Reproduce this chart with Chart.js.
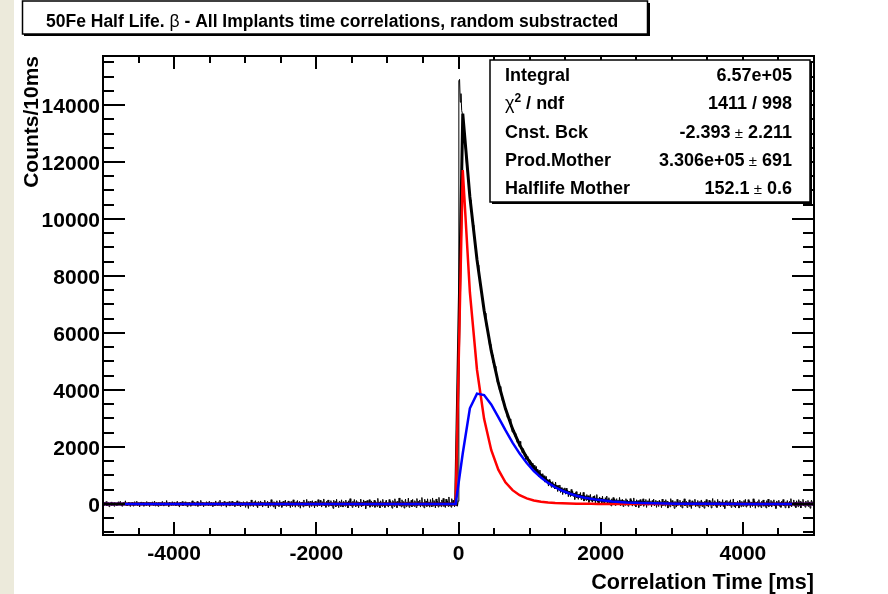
<!DOCTYPE html>
<html>
<head>
<meta charset="utf-8">
<script src="https://cdn.jsdelivr.net/npm/chart.js@4.4.1/dist/chart.umd.min.js"></script>
<style>
  html, body { margin: 0; padding: 0; background: #fff; }
  #wrap { position: relative; width: 888px; height: 594px; }
</style>
</head>
<body>
<div id="wrap"><canvas id="halfLifeChart" width="888" height="594"></canvas></div>
<script>
'use strict';

// --- histogram: 10 ms bins from -5000 to 5000 ms ---
const BIN_LOW = -5000;
const BIN_WIDTH = 10;

// counts per bin, t < 0 (random subtracted, flat around zero)
const countsBefore = [
  30,-45,60,-20,85,-70,10,45,-95,25,-30,70,-55,15,40,-80,55,-10,35,-60,
  20,75,-40,-15,90,-65,30,-85,50,5,-35,110,-50,25,-70,40,65,-25,-90,45,
  -10,55,-75,35,80,-45,-20,95,-60,15,50,-105,30,70,-40,-15,60,-80,25,40,
  -55,85,10,-30,65,-95,45,-20,30,75,-50,-10,100,-70,20,55,-35,-85,60,15,
  40,-60,25,90,-30,-75,50,10,-45,120,-25,35,-90,65,-15,45,-55,80,-40,5,
  70,-20,-65,35,95,-50,15,-110,60,30,-35,85,-70,20,-5,75,-45,40,-95,55,
  -30,65,20,-80,45,110,-40,-15,70,-60,35,-25,90,-85,50,10,-55,125,-20,30,
  60,-100,40,15,-45,80,-30,55,-70,95,20,-50,65,-10,-90,45,30,-65,105,-35,
  25,-55,75,-40,130,-20,-85,50,15,-60,90,-30,40,-115,70,5,-45,85,-75,35,
  -15,95,-50,30,60,-90,45,-25,110,-65,20,75,-40,-105,55,35,-70,80,-10,50,
  -120,40,85,-35,-160,60,25,-80,140,-45,30,-95,75,-25,115,-70,50,-135,90,20,
  -60,105,-30,70,-110,45,-15,130,-75,35,-50,95,-140,60,20,-85,150,-40,55,-100,
  80,-25,-170,65,110,-55,30,-90,125,-35,70,-120,45,95,-65,-20,135,-80,40,-45,
  105,-70,50,-130,85,25,-95,145,-40,60,-115,75,-30,120,-85,15,90,-150,55,-20,
  70,-105,140,-45,30,-75,160,-60,85,-25,-125,95,40,-90,115,-35,65,-140,100,-50,
  45,-95,150,-30,-70,125,55,-110,80,-40,175,-65,30,-120,95,-15,140,-85,60,-45,
  115,-75,40,-155,130,-20,85,-100,165,-50,25,-130,105,60,-90,145,-35,-110,90,20,
  -80,135,-45,70,-140,110,-25,185,-70,45,-120,95,-55,155,30,-95,120,-60,80,-135,
  60,-40,170,-100,55,-75,140,-30,95,-165,75,120,-60,-20,150,-115,40,105,-85,65,
  -50,130,-120,85,25,-95,195,-45,70,-140,110,-10,-85,160,-60,45,-125,90,135,-70,
  40,-110,155,-55,100,-35,-150,120,65,-90,180,-40,75,-130,95,-20,210,-75,50,-105,
  145,-60,85,-145,30,170,-95,60,-40,205,-120,75,-55,130,-100,160,-30,-85,115,45,
  -125,190,-70,95,-30,140,-110,55,225,-80,40,-135,165,-45,100,-90,180,-60,70,-115,
  155,-40,-100,210,-75,120,30,-140,175,-55,90,-110,230,-65,45,-95,140,-30,195,-85,
  60,-125,170,-45,110,-90,245,-70,35,-115,185,-50,130,-30,-100,205,-60,150,-80,95
];

// counts per bin, t >= 0 (decay of 50Fe and its daughter)
const countsAfter = [
  14850,14900,14100,14400,13800,13700,13250,13150,12650,12500,
  12283,11813,11698,11328,11274,10845,10671,10272,10258,9920,
  9785,9416,9400,9040,8754,8742,8455,8382,8012,7958,
  7667,7669,7346,7287,6932,6920,6651,6696,6394,6176,
  6221,5929,5910,5585,5603,5533,5236,5232,4971,5013,
  4767,4834,4573,4565,4269,4377,4216,4007,4121,3857,
  3895,3626,3688,3522,3609,3316,3317,3319,3033,3118,
  2915,2994,2984,2716,2760,2525,2672,2521,2580,2362,
  2474,2267,2152,2269,2167,2016,2196,1938,1980,1794,
  1918,1934,1681,1768,1557,1727,1578,1669,1462,1545,
  1359,1494,1420,1216,1434,1243,1352,1211,1082,1314,
  1085,1218,961,1105,1189,925,1020,897,1063,881,
  989,767,916,965,735,816,627,858,699,792,
  585,737,781,585,669,524,769,554,660,436,
  652,479,666,403,542,579,328,536,425,564,
  343,552,372,483,254,445,396,257,508,299,
  451,262,364,157,399,432,214,317,160,344,
  217,401,154,308,212,406,101,305,240,124,
  329,144,289,54,230,335,101,186,62,268,
  124,290,36,222,329,55,162,-12,245,102,
  209,26,273,60,147,-26,221,88,276,23,
  151,218,-14,114,-69,179,47,225,13,181,
  -51,137,185,-17,112,20,228,-54,145,43,
  162,-90,129,87,-44,184,-7,142,-80,99,
  -22,187,16,134,-77,102,211,-50,79,-102,
  147,-14,115,-125,64,153,-58,91,-9,180,
  -81,98,8,157,-124,76,115,-46,184,-7,
  83,-98,122,-19,170,-70,39,129,-122,88,
  40,-90,135,-25,80,-130,170,-60,15,105,
  -75,150,-40,95,-145,60,20,-100,185,-35,
  120,-65,45,-155,90,30,-110,160,-50,75,
  -20,130,-95,55,-140,105,-30,180,-70,40,
  95,-125,60,-15,145,-85,25,-160,110,-45,
  70,-30,165,-100,35,-70,120,-20,-135,90,
  -55,140,-90,75,20,-150,100,-40,155,-75,
  45,-110,130,-35,85,-140,60,190,-60,-25,
  115,-80,35,-125,160,-50,90,-15,-105,70,
  -40,150,-95,50,-160,110,-30,125,-70,20,
  80,-55,145,-120,40,-20,175,-90,55,-135,
  30,-70,105,-40,-145,135,60,-100,90,-25,
  -85,120,-35,160,-110,45,-60,150,-20,95,
  -130,70,25,-90,180,-45,110,-150,55,-15,
  85,-105,150,-60,35,-125,95,-30,140,-80,
  50,-20,-140,115,-65,170,-95,40,-50,125,
  -110,80,-30,145,-75,20,-160,105,60,-40,
  130,-85,45,-120,95,-25,155,-70,10,-135,
  75,-50,120,-15,-145,90,-60,185,-100,35,
  -25,140,-80,60,-130,110,25,-95,150,-55,
  90,-140,55,-35,165,-70,30,-115,100,-20,
  -60,125,-95,70,-150,45,135,-40,80,-110
];

// fit function sampled as drawn (ms -> counts)
const fitTimes    = [-5000, -40, 60, 160, 260, 360, 460, 560, 660, 760, 860, 960, 1060, 1160, 1260, 1360, 1460, 1560, 1660, 1760, 1860, 1960, 2160, 2360, 2560, 2760, 3060, 3560, 4060, 5000];
const fitTotal    = [-2, -2, 13700, 10773, 8573, 6800, 5380, 4246, 3346, 2633, 2071, 1627, 1277, 1002, 786, 616, 483, 380, 298, 233, 183, 143, 88, 54, 33, 20, 10, 3, 1, -2];
const fitMother   = [0, 0, 11720, 7430, 4710, 2987, 1894, 1201, 761, 483, 306, 194, 123, 78, 50, 32, 20, 13, 8, 5, 3, 2, 1, 0, 0, 0, 0, 0, 0, 0];
const fitDaughter = [0, 0, 1780, 3357, 3872, 3820, 3492, 3050, 2588, 2153, 1766, 1434, 1155, 925, 737, 585, 463, 366, 289, 229, 180, 143, 87, 54, 33, 20, 10, 3, 1, 0];

const xRange = [-5000, 5000];
const yRange = [-1090, 15720];
const xTicks = [-4000, -2000, 0, 2000, 4000];
const yTicks = [0, 2000, 4000, 6000, 8000, 10000, 12000, 14000];
const MINOR_STEP = 500;

const titleText = ['50Fe Half Life. ', 'β', ' - All Implants time correlations, random substracted'];
const statLabels = ['Integral', 'chi2', 'Cnst. Bck', 'Prod.Mother', 'Halflife Mother'];
const statValues = ['6.57e+05', '1411 / 998', '-2.393', '3.306e+05', '152.1'];
const statErrors = [null, null, '2.211', '691', '0.6'];

const FONT = "'Liberation Sans', Arial, Helvetica, sans-serif";

const counts = countsBefore.concat(countsAfter);
const histPoints = counts.map((v, i) => ({ x: BIN_LOW + BIN_WIDTH * (i + 0.5), y: v }));
const toXY = vals => vals.map((v, i) => ({ x: fitTimes[i], y: v }));

// draws a run of [text, font, dy] pieces, left to right
function drawRun(c, pieces, x, y) {
  pieces.forEach(([t, f, dy]) => {
    c.font = f;
    c.fillText(t, x, y + (dy || 0));
    x += c.measureText(t).width;
  });
}
function runWidth(c, pieces) {
  return pieces.reduce((w, [t, f]) => { c.font = f; return w + c.measureText(t).width; }, 0);
}

const rootFrame = {
  id: 'rootFrame',
  beforeDraw(chart) {
    const c = chart.ctx;
    c.save();
    c.fillStyle = '#ECEADB';
    c.fillRect(0, 0, 14, chart.height);
    c.restore();
  },
  afterDraw(chart) {
    const { ctx: c, chartArea: a, scales: { x, y } } = chart;
    c.save();
    c.strokeStyle = '#000';
    c.lineWidth = 2;
    c.strokeRect(a.left, a.top, a.right - a.left, a.bottom - a.top);

    // ticks on all four sides
    c.beginPath();
    for (let v = xRange[0] + MINOR_STEP; v < xRange[1]; v += MINOR_STEP) {
      const px = Math.round(x.getPixelForValue(v));
      const len = xTicks.includes(v) ? 13 : 7;
      c.moveTo(px, a.bottom); c.lineTo(px, a.bottom - len);
      c.moveTo(px, a.top); c.lineTo(px, a.top + len);
    }
    for (let v = -1000; v <= 15500; v += MINOR_STEP) {
      const py = Math.round(y.getPixelForValue(v));
      const len = yTicks.includes(v) ? 22 : 11;
      c.moveTo(a.left, py); c.lineTo(a.left + len, py);
      c.moveTo(a.right, py); c.lineTo(a.right - len, py);
    }
    c.stroke();

    // title box
    c.fillStyle = '#000';
    c.fillRect(24, 3, 626, 33);
    c.fillStyle = '#fff';
    c.fillRect(22, 1, 626, 33);
    c.lineWidth = 1.5;
    c.strokeRect(22.5, 1, 625, 33);
    c.fillStyle = '#000';
    c.textBaseline = 'alphabetic';
    const tb = `bold 17.5px ${FONT}`, tn = `17.5px ${FONT}`;
    drawRun(c, [[titleText[0], tb], [titleText[1], tn], [titleText[2], tb]], 46, 27);

    // stats box
    const bx = 490, by = 60, bw = 320, bh = 142;
    c.fillStyle = '#000';
    c.fillRect(bx + 2, by + 2, bw, bh);
    c.fillStyle = '#fff';
    c.fillRect(bx, by, bw, bh);
    c.lineWidth = 1.5;
    c.strokeRect(bx, by, bw, bh);
    c.fillStyle = '#000';
    const sb = `bold 18px ${FONT}`, sn = `18px ${FONT}`, pm = `15px ${FONT}`;
    statLabels.forEach((lab, i) => {
      const base = by + bh / 5 * (i + 0.5) + 6.5;
      if (lab === 'chi2') {
        drawRun(c, [['χ', sn], ['2', `bold 12px ${FONT}`, -7], [' / ndf', sb]], 505, base);
      } else {
        c.font = sb;
        c.textAlign = 'left';
        c.fillText(lab, 505, base);
      }
      const pieces = statErrors[i] == null
        ? [[statValues[i], sb]]
        : [[statValues[i], sb], [' ±', pm], [' ' + statErrors[i], sb]];
      const w = runWidth(c, pieces);
      drawRun(c, pieces, 792 - w, base);
    });
    c.restore();
  }
};

const axisFont = { family: FONT, size: 21, weight: 'bold' };

new Chart(document.getElementById('halfLifeChart').getContext('2d'), {
  type: 'line',
  data: {
    datasets: [
      { label: 'data', data: histPoints, borderColor: '#000', borderWidth: 1, pointRadius: 0, tension: 0, order: 4 },
      { label: 'fit', data: toXY(fitTotal), borderColor: '#000', borderWidth: 3, pointRadius: 0, tension: 0, order: 3 },
      { label: 'mother', data: toXY(fitMother), borderColor: '#ff0000', borderWidth: 2.5, pointRadius: 0, tension: 0, order: 2 },
      { label: 'daughter', data: toXY(fitDaughter), borderColor: '#0000ff', borderWidth: 2.5, pointRadius: 0, tension: 0, order: 1 },
    ],
  },
  options: {
    responsive: false,
    animation: false,
    events: [],
    layout: { padding: { top: 56, right: 74, left: 0, bottom: 0 } },
    plugins: { legend: { display: false }, tooltip: { enabled: false } },
    scales: {
      x: {
        type: 'linear',
        min: xRange[0],
        max: xRange[1],
        afterBuildTicks: s => { s.ticks = xTicks.map(v => ({ value: v })); },
        afterFit: s => { s.height = 59; },
        grid: { display: false, drawTicks: false },
        border: { display: false },
        ticks: { font: axisFont, color: '#000', padding: 7, maxRotation: 0, autoSkip: false, callback: v => String(v) },
        title: { display: true, text: 'Correlation Time [ms]', align: 'end', font: { family: FONT, size: 21.6, weight: 'bold' }, color: '#000', padding: { top: 0, bottom: -2 } },
      },
      y: {
        type: 'linear',
        min: yRange[0],
        max: yRange[1],
        afterBuildTicks: s => { s.ticks = yTicks.map(v => ({ value: v })); },
        afterFit: s => { s.width = 103; },
        grid: { display: false, drawTicks: false },
        border: { display: false },
        ticks: { font: axisFont, color: '#000', padding: 3, labelOffset: 2, autoSkip: false, callback: v => String(v) },
        title: { display: true, text: 'Counts/10ms', align: 'end', font: axisFont, color: '#000', padding: { top: 20, bottom: 0 } },
      },
    },
  },
  plugins: [rootFrame],
});
</script>
</body>
</html>
